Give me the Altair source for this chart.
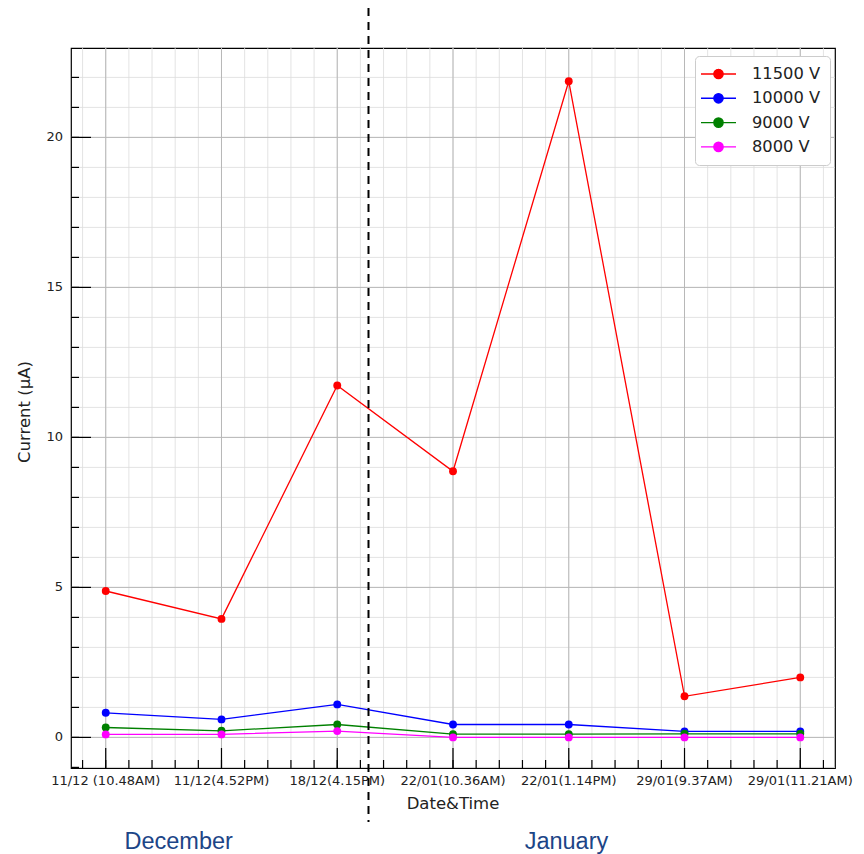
import altair as alt
import numpy as np
import pandas as pd

# ---------------- data ----------------
x_labels = ["11/12 (10.48AM)", "11/12(4.52PM)", "18/12(4.15PM)", "22/01(10.36AM)",
            "22/01(1.14PM)", "29/01(9.37AM)", "29/01(11.21AM)"]
series = ["11500 V", "10000 V", "9000 V", "8000 V"]
colors = ["#ff0000", "#0000ff", "#008000", "#ff00ff"]
v11500 = [4.88, 3.95, 11.73, 8.87, 21.87, 1.37, 2.0]
v10000 = [0.82, 0.60, 1.10, 0.43, 0.43, 0.20, 0.20]
v9000 = [0.33, 0.22, 0.43, 0.11, 0.11, 0.12, 0.12]
v8000 = [0.10, 0.10, 0.21, 0.0, 0.0, 0.0, 0.0]
y_ticks = [0, 5, 10, 15, 20]
x_title = "Date&Time"
y_title = "Current (μA)"
divider = [2.27]
months = ["December", "January"]
month_pos = [0.63, 3.98]

rows = []
for s, vals in zip(series, [v11500, v10000, v9000, v8000]):
    for i, v in enumerate(vals):
        rows.append({"idx": i, "series": s, "current": v})
df = pd.DataFrame(rows)

W, H = 764, 720
xscale = alt.Scale(domain=[-0.3, 6.3], nice=False, zero=False)
yscale = alt.Scale(domain=[-1.02, 22.98], nice=False, zero=False)

x_minor = pd.DataFrame({"v": np.round(np.linspace(-0.2, 6.2, 33), 2)})
x_major = pd.DataFrame({"v": list(range(len(x_labels))), "lab": x_labels})
y_minor = pd.DataFrame({"v": list(range(-1, 23))})
y_major = pd.DataFrame({"v": y_ticks, "lab": [str(t) for t in y_ticks]})

FONT = "DejaVu Sans"
TXT = "#222222"

def X(field):
    return alt.X(field, scale=xscale, axis=None)

def Y(field):
    return alt.Y(field, scale=yscale, axis=None)

def vgrid(d, color, sw):
    return alt.Chart(d).mark_rule(color=color, strokeWidth=sw).encode(x=X("v:Q"))

def hgrid(d, color, sw):
    return alt.Chart(d).mark_rule(color=color, strokeWidth=sw).encode(y=Y("v:Q"))

def xticks(d, length):
    return alt.Chart(d).mark_rule(color="black", strokeWidth=1.2).encode(
        x=X("v:Q"), y=alt.value(H), y2=alt.value(H - length))

def yticks(d, length):
    return alt.Chart(d).mark_rule(color="black", strokeWidth=1.2).encode(
        y=Y("v:Q"), x=alt.value(0), x2=alt.value(length))

# legend symbol: a line with a dot in the middle (size 256 -> unit = 8px)
SYMBOL = ("M-2.19,0L2.19,0M-0.58,0A0.58,0.58,0,1,1,0.58,0"
          "A0.58,0.58,0,1,1,-0.58,0Z")

def make_legend():
    return alt.Legend(
        title=None, orient="none", legendX=624, legendY=8,
        symbolType=SYMBOL, symbolSize=256, symbolStrokeWidth=1.4,
        symbolOffset=5.5,
        labelFont=FONT, labelFontSize=16.3, labelColor=TXT,
        labelOffset=24.5, rowPadding=6.3, padding=9, cornerRadius=4,
        strokeColor="#cccccc", fillColor="white")

lines = alt.Chart(df).mark_line(strokeWidth=1.3).encode(
    x=X("idx:Q"), y=Y("current:Q"),
    stroke=alt.Stroke("series:N", scale=alt.Scale(domain=series, range=colors),
                      legend=make_legend()),
)
points = alt.Chart(df).mark_circle(size=62, opacity=1).encode(
    x=X("idx:Q"), y=Y("current:Q"),
    fill=alt.Fill("series:N", scale=alt.Scale(domain=series, range=colors),
                  legend=make_legend()),
)

xlab = alt.Chart(x_major).mark_text(
    font=FONT, fontSize=13, color=TXT, baseline="top", align="center").encode(
    x=X("v:Q"), y=alt.value(H + 7), text="lab:N")
ylab = alt.Chart(y_major).mark_text(
    font=FONT, fontSize=13, color=TXT, baseline="middle", align="right").encode(
    y=Y("v:Q"), x=alt.value(-8), text="lab:N")
xtit = alt.Chart(pd.DataFrame({"t": [x_title]})).mark_text(
    font=FONT, fontSize=16.5, color=TXT, baseline="alphabetic", align="center").encode(
    x=alt.value(W / 2), y=alt.value(H + 41), text="t:N")
ytit = alt.Chart(pd.DataFrame({"t": [y_title]})).mark_text(
    font=FONT, fontSize=16.5, color=TXT, baseline="middle", align="center",
    angle=270).encode(
    x=alt.value(-46), y=alt.value(H / 2 + 4), text="t:N")

dash = alt.Chart(pd.DataFrame({"x": divider})).mark_rule(
    color="black", strokeWidth=2, strokeDash=[8, 6]).encode(
    x=X("x:Q"), y=alt.value(-40), y2=alt.value(774))

month_text = alt.Chart(pd.DataFrame({"month": months, "pos": month_pos})).mark_text(
    font="Liberation Sans", fontSize=23.5, color="#1c4587", baseline="alphabetic",
    align="center").encode(
    x=X("pos:Q"), y=alt.value(801), text="month:N")

chart = alt.layer(
    vgrid(x_minor, "#dcdcdc", 0.8), hgrid(y_minor, "#dcdcdc", 0.8),
    vgrid(x_major, "#b8b8b8", 1.0), hgrid(y_major, "#b8b8b8", 1.0),
    lines, points,
    xticks(x_minor, 8), xticks(x_major, 20), yticks(y_minor, 8), yticks(y_major, 20),
    xlab, ylab, xtit, ytit,
    dash, month_text,
).properties(
    width=W, height=H,
    padding={"left": 63, "top": 40, "right": 21, "bottom": 86},
    autosize=alt.AutoSizeParams(type="none"),
    background="white",
).configure_view(stroke="black", strokeWidth=1.2)

chart.save("out.html", embed_options={"renderer": "svg", "actions": False})
